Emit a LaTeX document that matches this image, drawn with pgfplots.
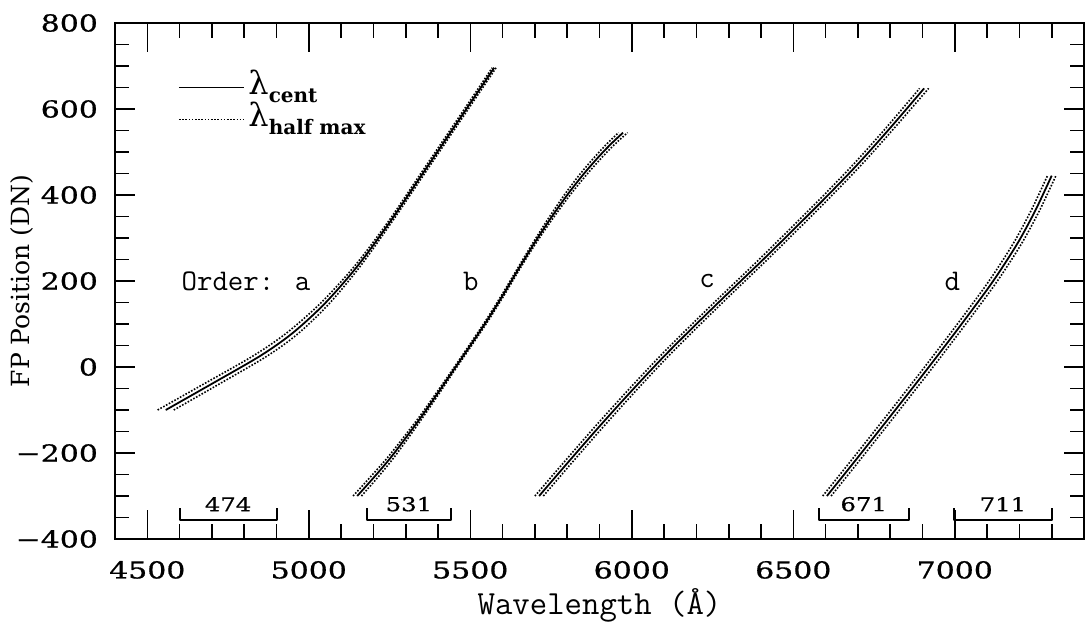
\documentclass[border=0pt]{standalone}
\usepackage{fontspec}
\usepackage{pgfplots}
\pgfplotsset{compat=1.18}
\newfontfamily\numfont{DejaVu Serif}[FakeStretch=1.28, FakeBold=0.7]
\newfontfamily\serfont{DejaVu Serif}
\begin{document}
\begin{tikzpicture}
\useasboundingbox (-57.5pt,-46.5pt) rectangle (485pt,269.5pt);
\begin{axis}[
  scale only axis, width=484.5pt, height=258pt,
  xmin=4400, xmax=7400, ymin=-400, ymax=800,
  xtick={4500,5000,5500,6000,6500,7000},
  xticklabels={4500,5000,5500,6000,6500,7000},
  ytick={-400,-200,0,200,400,600,800},
  yticklabels={−400,−200,0,200,400,600,800},
  minor xtick={4400,4500,...,7400},
  minor ytick={-400,-350,...,800},
  tick align=inside,
  xtick style={/pgfplots/major tick length=14.5pt, /pgfplots/minor tick length=7.5pt, line width=0.8pt, black},
  ytick style={/pgfplots/major tick length=10pt, /pgfplots/minor tick length=7pt, line width=0.8pt, black},
  axis line style={line width=1pt},
  ticklabel style={font=\numfont\fontsize{11.7}{14}\selectfont},
  xticklabel shift=7.5pt, yticklabel shift=5pt,
  xlabel={Wavelength (Å)}, ylabel={FP Position (DN)},
  xlabel style={font=\ttfamily\fontsize{16.9}{18}\selectfont, at={(axis description cs:0.5,-0.128)}, anchor=center},
  ylabel style={font=\serfont\fontsize{12.5}{14}\selectfont, at={(axis description cs:-0.096,0.5)}, anchor=center},
  clip=false,
  every axis plot/.append style={line join=round},
  cent/.style={black, line width=0.9pt, smooth},
  half/.style={black, line width=0.8pt, dash pattern=on 0.8pt off 0.8pt, smooth},
]
% ---- order a ----
\addplot[cent] coordinates {(4557,-100) (4700,-39) (4850,26) (4950,79) (5050,148) (5150,234) (5250,336) (5350,447) (5450,558) (5574,696)};
\addplot[half] coordinates {(4532,-100) (4676,-39) (4828,26) (4931,79) (5036,148) (5141,234) (5244,336) (5344,447) (5444,558) (5568,696)};
\addplot[half] coordinates {(4582,-100) (4724,-39) (4872,26) (4969,79) (5064,148) (5159,234) (5256,336) (5356,447) (5456,558) (5580,696)};
% ---- order b ----
\addplot[cent] coordinates {(5150,-300) (5200,-258) (5250,-214) (5300,-165) (5350,-114) (5400,-60) (5450,-5) (5500,50) (5550,106) (5600,166) (5650,229) (5700,290) (5750,347) (5800,400) (5850,448) (5900,491) (5940,522) (5973,545)};
\addplot[half] coordinates {(5137,-300) (5188,-258) (5240,-214) (5292,-165) (5344,-114) (5395,-60) (5446,-5) (5496,50) (5546,106) (5596,166) (5646,229) (5695,290) (5743,347) (5791,400) (5839,448) (5888,491) (5927,522) (5959,545)};
\addplot[half] coordinates {(5163,-300) (5212,-258) (5260,-214) (5308,-165) (5356,-114) (5405,-60) (5454,-5) (5504,50) (5554,106) (5604,166) (5654,229) (5705,290) (5757,347) (5809,400) (5861,448) (5912,491) (5953,522) (5987,545)};
% ---- order c ----
\addplot[cent] coordinates {(5713,-300) (5800,-224) (5900,-138) (6000,-55) (6100,25) (6200,100) (6300,173) (6400,245) (6500,319) (6600,394) (6700,472) (6800,556) (6905,648)};
\addplot[half] coordinates {(5700,-300) (5787,-224) (5887,-138) (5987,-55) (6087,25) (6187,100) (6287,173) (6387,245) (6487,319) (6587,394) (6687,472) (6787,556) (6891,648)};
\addplot[half] coordinates {(5726,-300) (5813,-224) (5913,-138) (6013,-55) (6113,25) (6213,100) (6313,173) (6413,245) (6513,319) (6613,394) (6713,472) (6813,556) (6919,648)};
% ---- order d ----
\addplot[cent] coordinates {(6604,-300) (6700,-210) (6800,-115) (6900,-19) (7000,79) (7100,180) (7150,235) (7200,295) (7250,365) (7300,445)};
\addplot[half] coordinates {(6591,-300) (6687,-210) (6787,-115) (6887,-19) (6987,79) (7087,180) (7137,235) (7187,295) (7237,365) (7287,445)};
\addplot[half] coordinates {(6617,-300) (6713,-210) (6813,-115) (6913,-19) (7013,79) (7113,180) (7163,235) (7213,295) (7263,365) (7313,445)};
% ---- filter brackets ----
\addplot[black, line width=1pt] coordinates {(4600,-328) (4600,-356) (4900,-356) (4900,-328)};
\addplot[black, line width=1pt] coordinates {(5180,-328) (5180,-356) (5440,-356) (5440,-328)};
\addplot[black, line width=1pt] coordinates {(6578,-328) (6578,-356) (6858,-356) (6858,-328)};
\addplot[black, line width=1pt] coordinates {(6998,-328) (6998,-356) (7300,-356) (7300,-328)};
\node[font=\numfont\fontsize{9.5}{11}\selectfont] at (axis cs:4750,-319) {474};
\node[font=\numfont\fontsize{9.5}{11}\selectfont] at (axis cs:5310,-319) {531};
\node[font=\numfont\fontsize{9.5}{11}\selectfont] at (axis cs:6718,-319) {671};
\node[font=\numfont\fontsize{9.5}{11}\selectfont] at (axis cs:7149,-319) {711};
% ---- order labels ----
\node[font=\ttfamily\fontsize{15}{16}\selectfont, anchor=west, inner sep=0pt] at (axis cs:4605,200) {Order: a};
\node[font=\ttfamily\fontsize{15}{16}\selectfont, inner sep=0pt] at (axis cs:5502,200) {b};
\node[font=\ttfamily\fontsize{15}{16}\selectfont, inner sep=0pt] at (axis cs:6233,200) {c};
\node[font=\ttfamily\fontsize{15}{16}\selectfont, inner sep=0pt] at (axis cs:6992,200) {d};
% ---- legend ----
\addplot[black, line width=0.9pt] coordinates {(4598,650) (4800,650)};
\addplot[black, line width=0.8pt, dash pattern=on 0.8pt off 0.8pt] coordinates {(4598,576) (4800,576)};
\node[anchor=west, inner sep=0pt] at (axis cs:4812,652) {{\serfont\fontsize{16}{18}\selectfont λ}\raisebox{-4pt}{\serfont\bfseries\fontsize{10}{12}\selectfont cent}};
\node[anchor=west, inner sep=0pt] at (axis cs:4812,578) {{\serfont\fontsize{16}{18}\selectfont λ}\raisebox{-4pt}{\serfont\bfseries\fontsize{10}{12}\selectfont half max}};
\end{axis}
\end{tikzpicture}
\end{document}
